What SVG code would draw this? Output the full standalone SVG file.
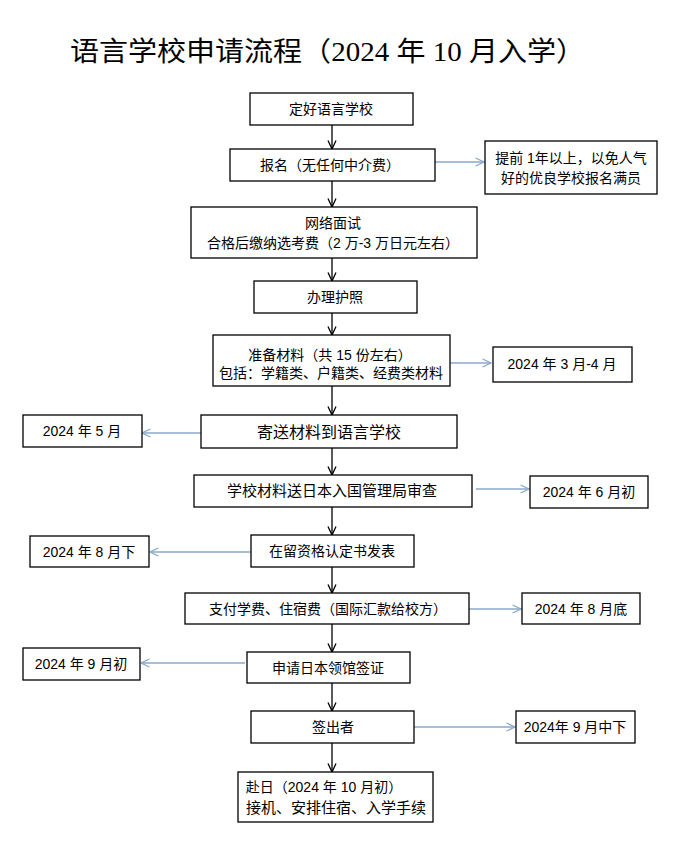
<svg xmlns="http://www.w3.org/2000/svg" width="681" height="857" viewBox="0 0 681 857">
<defs>
<style>
.box{fill:#fff;stroke:#000;stroke-width:1.3}
.t{font-family:"Liberation Sans","Noto Sans CJK SC",sans-serif;font-size:14px;fill:#000;text-anchor:middle}
.title{font-family:"Liberation Serif","Noto Sans CJK SC",serif;font-size:27px;fill:#000}
.main{stroke:#000;stroke-width:1.3;fill:none}
.side{stroke:#8aa8c8;stroke-width:1.3;fill:none}
</style>
<marker id="ah" viewBox="0 0 10 10" refX="9.5" refY="5" markerWidth="10" markerHeight="10" markerUnits="userSpaceOnUse" orient="auto">
<path d="M1,1 L9.5,5 L1,9" fill="none" stroke="#000" stroke-width="1.3"/>
</marker>
<marker id="ahs" viewBox="0 0 10 10" refX="9.5" refY="5" markerWidth="10" markerHeight="10" markerUnits="userSpaceOnUse" orient="auto">
<path d="M1,1 L9.5,5 L1,9" fill="none" stroke="#8aa8c8" stroke-width="1.3"/>
</marker>
</defs>
<rect width="681" height="857" fill="#fff"/>
<text class="title" x="70" y="61" textLength="515" lengthAdjust="spacingAndGlyphs">语言学校申请流程（2024 年 10 月入学）</text>

<g id="connectors">
<line class="main" x1="332" y1="125" x2="332" y2="149" marker-end="url(#ah)"/>
<line class="main" x1="332" y1="181" x2="332" y2="207" marker-end="url(#ah)"/>
<line class="main" x1="332" y1="258" x2="332" y2="281" marker-end="url(#ah)"/>
<line class="main" x1="332" y1="313" x2="332" y2="335" marker-end="url(#ah)"/>
<line class="main" x1="332" y1="386" x2="332" y2="415" marker-end="url(#ah)"/>
<line class="main" x1="332" y1="448" x2="332" y2="475" marker-end="url(#ah)"/>
<line class="main" x1="332" y1="507" x2="332" y2="535" marker-end="url(#ah)"/>
<line class="main" x1="332" y1="567" x2="332" y2="593" marker-end="url(#ah)"/>
<line class="main" x1="332" y1="624" x2="332" y2="652" marker-end="url(#ah)"/>
<line class="main" x1="332" y1="683" x2="332" y2="711" marker-end="url(#ah)"/>
<line class="main" x1="332" y1="743" x2="332" y2="772" marker-end="url(#ah)"/>
<line class="side" x1="435" y1="162" x2="484" y2="162" marker-end="url(#ahs)"/>
<line class="side" x1="450" y1="363" x2="491" y2="363" marker-end="url(#ahs)"/>
<line class="side" x1="201" y1="433" x2="142" y2="433" marker-end="url(#ahs)"/>
<line class="side" x1="476" y1="489" x2="529" y2="489" marker-end="url(#ahs)"/>
<line class="side" x1="251" y1="552" x2="150" y2="552" marker-end="url(#ahs)"/>
<line class="side" x1="469" y1="609" x2="521" y2="609" marker-end="url(#ahs)"/>
<line class="side" x1="245" y1="663" x2="141" y2="663" marker-end="url(#ahs)"/>
<line class="side" x1="414" y1="727" x2="515" y2="727" marker-end="url(#ahs)"/>
</g>

<g id="n1"><rect class="box" x="250" y="93" width="163" height="32"/><text class="t" x="331" y="114">定好语言学校</text></g>
<g id="n2"><rect class="box" x="230" y="149" width="205" height="32"/><text class="t" x="330" y="170">报名（无任何中介费）</text></g>
<g id="n2s"><rect class="box" x="485" y="141" width="172" height="53"/><text class="t" x="571" y="163">提前 1年以上，以免人气</text><text class="t" x="571" y="183">好的优良学校报名满员</text></g>
<g id="n3"><rect class="box" x="191" y="207" width="286" height="51"/><text class="t" x="333" y="228">网络面试</text><text class="t" x="333" y="248">合格后缴纳选考费（2 万-3 万日元左右）</text></g>
<g id="n4"><rect class="box" x="254" y="281" width="163" height="32"/><text class="t" x="335" y="302">办理护照</text></g>
<g id="n5"><rect class="box" x="213" y="335" width="237" height="51"/><text class="t" x="330" y="360">准备材料（共 15 份左右）</text><text class="t" x="331" y="378">包括：学籍类、户籍类、经费类材料</text></g>
<g id="n5s"><rect class="box" x="493" y="347" width="139" height="35"/><text class="t" x="562" y="369">2024 年 3 月-4 月</text></g>
<g id="n6"><rect class="box" x="201" y="415" width="256" height="33"/><text class="t" x="329" y="438" style="font-size:16px">寄送材料到语言学校</text></g>
<g id="n6s"><rect class="box" x="23" y="415" width="119" height="32"/><text class="t" x="82" y="436">2024 年 5 月</text></g>
<g id="n7"><rect class="box" x="194" y="475" width="278" height="32"/><text class="t" x="332" y="496" style="font-size:15px">学校材料送日本入国管理局审查</text></g>
<g id="n7s"><rect class="box" x="530" y="476" width="118" height="32"/><text class="t" x="589" y="497">2024 年 6 月初</text></g>
<g id="n8"><rect class="box" x="251" y="535" width="163" height="32"/><text class="t" x="332" y="556">在留资格认定书发表</text></g>
<g id="n8s"><rect class="box" x="30" y="536" width="119" height="31"/><text class="t" x="89" y="557">2024 年 8 月下</text></g>
<g id="n9"><rect class="box" x="185" y="593" width="284" height="31"/><text class="t" x="328" y="614">支付学费、住宿费（国际汇款给校方）</text></g>
<g id="n9s"><rect class="box" x="522" y="593" width="118" height="31"/><text class="t" x="581" y="614">2024 年 8 月底</text></g>
<g id="n10"><rect class="box" x="247" y="652" width="163" height="31"/><text class="t" x="328" y="673">申请日本领馆签证</text></g>
<g id="n10s"><rect class="box" x="23" y="648" width="117" height="32"/><text class="t" x="81" y="669">2024 年 9 月初</text></g>
<g id="n11"><rect class="box" x="251" y="711" width="163" height="32"/><text class="t" x="333" y="732">签出者</text></g>
<g id="n11s"><rect class="box" x="516" y="711" width="119" height="32"/><text class="t" x="575" y="732">2024年 9 月中下</text></g>
<g id="n12"><rect class="box" x="238" y="772" width="195" height="50"/><text class="t" x="324" y="792">赴日（2024 年 10 月初）</text><text class="t" x="336" y="813" style="font-size:15px">接机、安排住宿、入学手续</text></g>
</svg>
